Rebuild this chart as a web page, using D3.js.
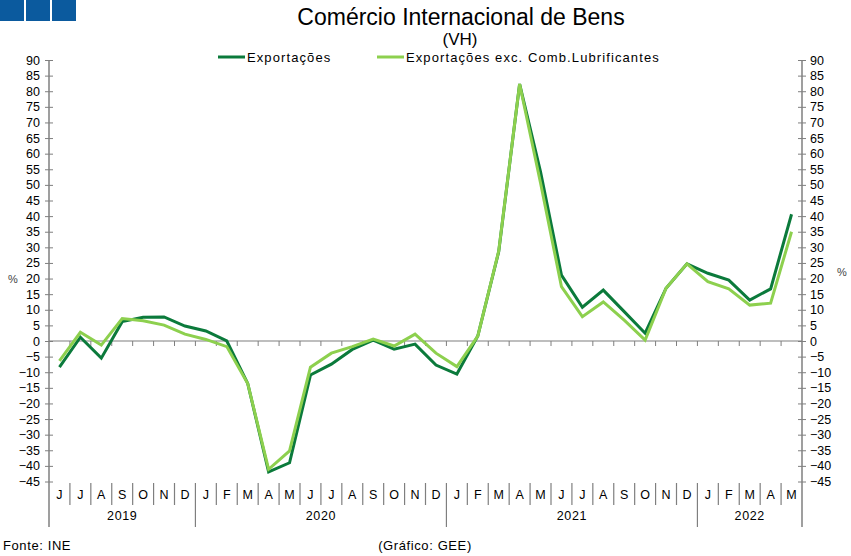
<!DOCTYPE html>
<html><head><meta charset="utf-8">
<script src="https://cdn.jsdelivr.net/npm/d3@7"></script>
<style>body{margin:0;background:#fff}svg{display:block;font-family:"Liberation Sans",Arial,sans-serif}</style>
</head><body><svg id="c" width="851" height="556"></svg>
<script>
const months = ["J","J","A","S","O","N","D","J","F","M","A","M","J","J","A","S","O","N","D","J","F","M","A","M","J","J","A","S","O","N","D","J","F","M","A","M"];
const years = [{label:"2019",start:0,end:7},{label:"2020",start:7,end:19},{label:"2021",start:19,end:31},{label:"2022",start:31,end:36}];
const exportacoes = [-8.4,1.2,-5.5,6.2,7.6,7.7,4.8,3.2,0,-13.6,-41.9,-39,-10.9,-7.4,-2.7,0.3,-2.6,-1,-7.7,-10.6,1.6,28.6,82.3,54.2,21.1,10.8,16.3,9.4,2.5,16.9,24.7,21.7,19.5,13.1,16.7,40.6];
const exportacoesExc = [-6.4,2.8,-1.3,7.2,6.5,5.1,2.2,0.5,-1.8,-13.6,-41.1,-35.2,-8.4,-3.9,-1.8,0.6,-1.6,2.2,-3.9,-8.2,1.6,28.8,82.3,50.6,17.4,7.8,12.5,6.7,0.3,16.9,24.7,19,16.7,11.5,12.1,35];
const yTicks = d3.range(-45, 91, 5);
const seriesNames = ["Exportações","Exportações exc. Comb.Lubrificantes"];
const colors = ["#0b7a3b","#8dd04e"];

const svg = d3.select("#c");
const L = 49, R = 802, T = 60, B = 481.5;
const x = d3.scaleBand().domain(d3.range(months.length)).range([L, R]).padding(0);
const y = d3.scaleLinear().domain([-45, 90]).range([B, T]);
const axisCol = "#7f7f7f";
const LS = "0.6px";

// logo
svg.selectAll("rect.logo").data([0,1,2]).enter().append("rect")
  .attr("x", d => d*26).attr("y", 0).attr("width", 24).attr("height", 21).attr("fill", "#0b5a9e");

// title
svg.append("text").attr("x", 461).attr("y", 25).attr("text-anchor","middle").attr("font-size", 23).attr("fill","#000").text("Comércio Internacional de Bens");
svg.append("text").attr("x", 460).attr("y", 45).attr("text-anchor","middle").attr("font-size", 17).attr("fill","#000").text("(VH)");

// legend
const leg = [{x:218, tx:247},{x:377, tx:406}];
leg.forEach((l,i)=>{
  svg.append("line").attr("x1", l.x).attr("x2", l.x+27).attr("y1", 57).attr("y2", 57).attr("stroke", colors[i]).attr("stroke-width", 3);
  svg.append("text").attr("x", l.tx).attr("y", 62).attr("font-size", 13).attr("letter-spacing","1.1px").attr("fill","#000").text(seriesNames[i]);
});

// left / right axes
const gl = svg.append("g").attr("transform", `translate(${L},0)`);
gl.call(d3.axisLeft(y).tickValues(yTicks).tickSize(4).tickSizeOuter(0));
gl.selectAll(".tick line").attr("x1", 4).attr("x2", -4).attr("stroke", axisCol);
gl.selectAll(".tick text").attr("x", -9).attr("font-size", 12.5).attr("font-family","Liberation Sans, Arial, sans-serif").attr("fill","#000");
gl.select(".domain").remove();
const gr = svg.append("g").attr("transform", `translate(${R},0)`);
gr.call(d3.axisRight(y).tickValues(yTicks).tickSize(4).tickSizeOuter(0));
gr.selectAll(".tick line").attr("x1", -4).attr("x2", 4).attr("stroke", axisCol);
gr.selectAll(".tick text").attr("x", 8).attr("font-size", 12.5).attr("font-family","Liberation Sans, Arial, sans-serif").attr("fill","#000");
gr.select(".domain").remove();

svg.append("line").attr("x1", L).attr("x2", L).attr("y1", T).attr("y2", 527).attr("stroke", axisCol).attr("stroke-width", 1.5);
svg.append("line").attr("x1", R).attr("x2", R).attr("y1", T).attr("y2", 527).attr("stroke", axisCol).attr("stroke-width", 1.5);

svg.append("text").attr("x", 13).attr("y", 283).attr("text-anchor","middle").attr("font-size", 11).attr("fill","#444").text("%");
svg.append("text").attr("x", 842).attr("y", 276).attr("text-anchor","middle").attr("font-size", 11).attr("fill","#444").text("%");

// zero line with ticks
svg.append("line").attr("x1", L).attr("x2", R).attr("y1", y(0)).attr("y2", y(0)).attr("stroke", axisCol).attr("stroke-width", 1.2);
svg.selectAll("line.zt").data(d3.range(1, months.length)).enter().append("line")
  .attr("x1", d => x(d)).attr("x2", d => x(d)).attr("y1", y(0)).attr("y2", y(0)+5).attr("stroke", axisCol);

// month labels
svg.selectAll("text.m").data(months).enter().append("text")
  .attr("x", (d,i) => x(i) + x.bandwidth()/2).attr("y", 499).attr("text-anchor","middle").attr("font-size", 12.5).attr("fill","#000").text(d => d);
const yearStarts = new Set(years.map(d=>d.start));
svg.selectAll("line.ms").data(d3.range(1, months.length)).enter().append("line")
  .attr("x1", d => x(d)).attr("x2", d => x(d)).attr("y1", 483)
  .attr("y2", d => yearStarts.has(d) ? 527 : 505).attr("stroke", axisCol).attr("stroke-width", 1.2);
svg.selectAll("text.yr").data(years).enter().append("text")
  .attr("x", d => (x(d.start) + x(d.end-1) + x.bandwidth())/2).attr("y", 520).attr("text-anchor","middle").attr("font-size", 12.5).attr("letter-spacing", LS).attr("fill","#000").text(d => d.label);

// lines
const line = d3.line().x((d,i) => x(i) + x.bandwidth()/2).y(d => y(d));
[exportacoes, exportacoesExc].forEach((s,i)=>{
  svg.append("path").datum(s).attr("d", line).attr("fill","none").attr("stroke", colors[i]).attr("stroke-width", 3).attr("stroke-linejoin","miter");
});

// footer
svg.append("text").attr("x", 3).attr("y", 550).attr("font-size", 13).attr("letter-spacing", LS).attr("fill","#000").text("Fonte: INE");
svg.append("text").attr("x", 425).attr("y", 550).attr("text-anchor","middle").attr("font-size", 13).attr("letter-spacing", LS).attr("fill","#000").text("(Gráfico: GEE)");
</script></body></html>
